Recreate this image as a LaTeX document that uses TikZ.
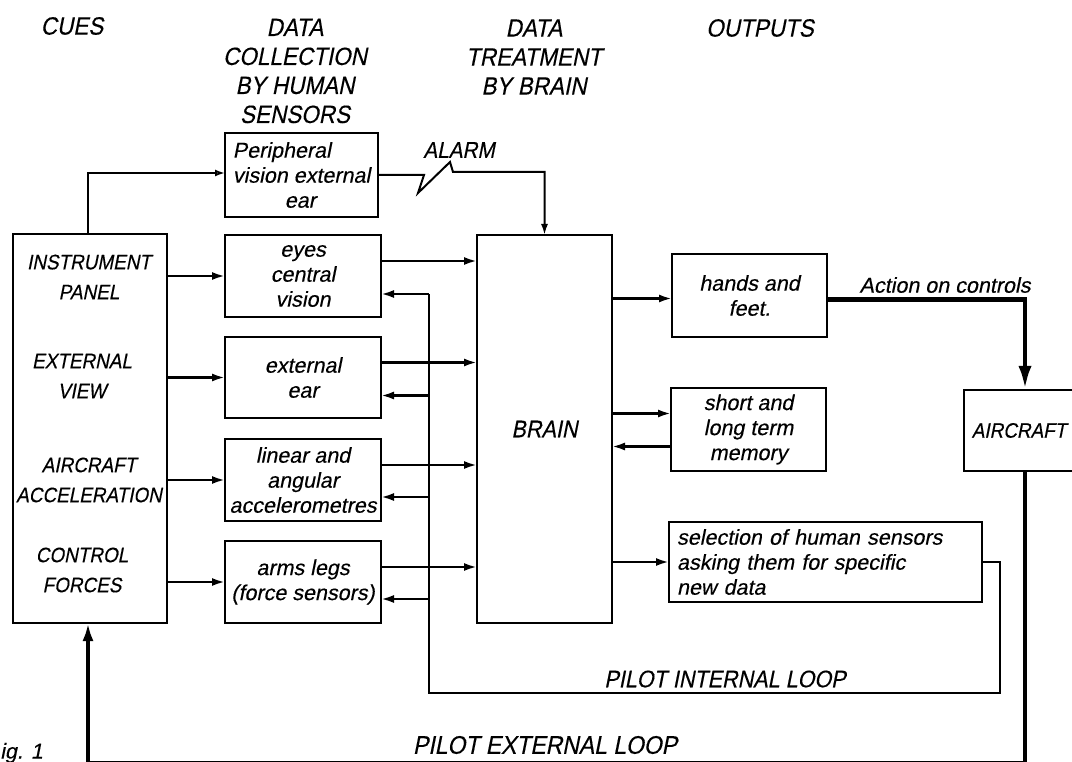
\documentclass[tikz,border=0pt]{standalone}
\usepackage{fontspec}
\setmainfont{Liberation Sans}[FakeSlant=0.2,FakeStretch=0.9,FakeBold=0.3]
\newfontfamily\lcfont{Liberation Sans}[FakeSlant=0.2,FakeBold=0.3]
\usetikzlibrary{arrows.meta}
\newcommand\fHdr{\fontsize{25}{29}\selectfont}
\newcommand\fCue{\fontsize{21}{30}\selectfont}
\newcommand\fBx{\lcfont\fontsize{21.5}{25}\selectfont}
\begin{document}
\begin{tikzpicture}[x=1pt,y=-1pt,
  box/.style={draw,line width=2pt,inner sep=0pt,outer sep=0pt,align=center,font=\fBx},
  ln/.style={line width=2.2pt},
  arr/.style={line width=2.4pt,-{Latex[length=13pt,width=8pt]}},
  thk/.style={line width=4pt},
  big/.style={line width=4.5pt,-{Latex[length=24pt,width=13pt]}},
  txt/.style={inner sep=0pt}]
\useasboundingbox (0,0) rectangle (1072,762);
\clip (0,0) rectangle (1072,762);
% headers
\node[txt,font=\fHdr] (hcues) at (72,26) {CUES};
\node[txt,font=\fHdr,align=center] (hcol) at (295,71) {DATA\\COLLECTION\\BY HUMAN\\SENSORS};
\node[txt,font=\fHdr,align=center] (htr) at (534,57) {DATA\\TREATMENT\\BY BRAIN};
\node[txt,font=\fHdr] (hout) at (760,28) {OUTPUTS};
% boxes
\node[box,minimum width=154pt,minimum height=389pt] (cues) at (90,428.5) {};
\node[txt,font=\fCue,align=center] (c1) at (89,277) {INSTRUMENT\\PANEL};
\node[txt,font=\fCue,align=center] (c2) at (82,376) {EXTERNAL\\VIEW};
\node[txt,font=\fCue,align=center] (c3) at (89,480) {AIRCRAFT\\ACCELERATION};
\node[txt,font=\fCue,align=center] (c4) at (82,570) {CONTROL\\FORCES};
\node[box,minimum width=153pt,minimum height=84pt,align=left] (per) at (301.5,175) {Peripheral\\vision external\\\hspace*{52pt}ear};
\node[box,minimum width=156pt,minimum height=82pt] (eyes) at (303,276) {eyes\\central\\vision};
\node[box,minimum width=156pt,minimum height=81pt] (ear) at (303,377.5) {external\\ear};
\node[box,minimum width=156pt,minimum height=82pt] (acc) at (303,480) {linear and\\angular\\accelerometres};
\node[box,minimum width=156pt,minimum height=82pt] (arms) at (303,582) {arms legs\\(force sensors)};
\node[box,minimum width=135pt,minimum height=388pt,font=\fontsize{24}{28}\selectfont] (brain) at (544.5,429) {BRAIN};
\node[box,minimum width=155pt,minimum height=83pt] (hands) at (749.5,295.5) {hands and\\feet.};
\node[box,minimum width=155pt,minimum height=83pt] (mem) at (748.5,429.5) {short and\\long term\\memory};
\node[box,minimum width=313pt,minimum height=80pt,align=left,text width=297pt] (sel) at (825.5,562) {selection of human sensors\\asking them for specific\\ new data};
\node[box,minimum width=110pt,minimum height=81pt,font=\fCue] (air) at (1019,430.5) {AIRCRAFT};
% labels
\node[txt,font=\fontsize{23}{26}\selectfont] (alarm) at (459,150) {ALARM};
\node[txt,font=\fBx] (act) at (945,285) {Action on controls};
\node[txt,font=\fontsize{24}{28}\selectfont] (pil) at (725,679) {PILOT INTERNAL LOOP};
\node[txt,font=\fontsize{25.5}{28}\selectfont] (pel) at (545,745) {PILOT EXTERNAL LOOP};
\node[txt,font=\fBx,anchor=west] (fig) at (0,753) {ig. 1};
% cues -> sensors
\draw[line width=1.8pt,-{Latex[length=10pt,width=7pt,open]}] ([xshift=-2pt]cues.north) |- ([yshift=2pt]per.west);
\foreach \s in {eyes,ear,acc,arms}{
  \draw[arr] (\s.west -| cues.east) -- (\s.west);
  \draw[arr] ([yshift=15pt]\s.east) -- ([yshift=15pt]\s.east -| brain.west);
}
% alarm
\draw[line width=2pt,-{Latex[length=11pt,width=7pt]}] (per.east) -- (424,175) -- (418,193) -- (450,162) -- (453,172) -| (brain.north);
% brain outputs
\draw[arr] ([yshift=-3pt]brain.east |- hands.west) -- ([yshift=-3pt]hands.west);
\draw[arr] ([yshift=16pt]mem.west -| brain.east) -- ([yshift=16pt]mem.west);
\draw[arr] ([yshift=-17pt]mem.west) -- ([yshift=-17pt]mem.west -| brain.east);
\draw[arr] (brain.east |- sel.west) -- (sel.west);
% internal loop
\coordinate (lr) at (1000,693);
\coordinate (ll) at (429,693);
\coordinate (t1) at (429,294);
\coordinate (t2) at (429,395.5);
\coordinate (t3) at (429,497);
\coordinate (t4) at (429,599);
\draw[ln] (sel.east) -| (lr) -- (ll) -- (t1);
\draw[arr] (t1) -- (t1 -| eyes.east);
\draw[arr] (t2) -- (t2 -| ear.east);
\draw[arr] (t3) -- (t3 -| acc.east);
\draw[arr] (t4) -- (t4 -| arms.east);
% external loop
\draw[big] ([yshift=-4pt]hands.east) -| ([xshift=6pt]air.north);
\coordinate (eb) at (1000,763);
\draw[thk,-{Latex[length=18pt,width=11pt]}] ([xshift=6pt]air.south) -- ([xshift=6pt]air.south |- eb) -| ([xshift=-2pt]cues.south);
\end{tikzpicture}
\end{document}
